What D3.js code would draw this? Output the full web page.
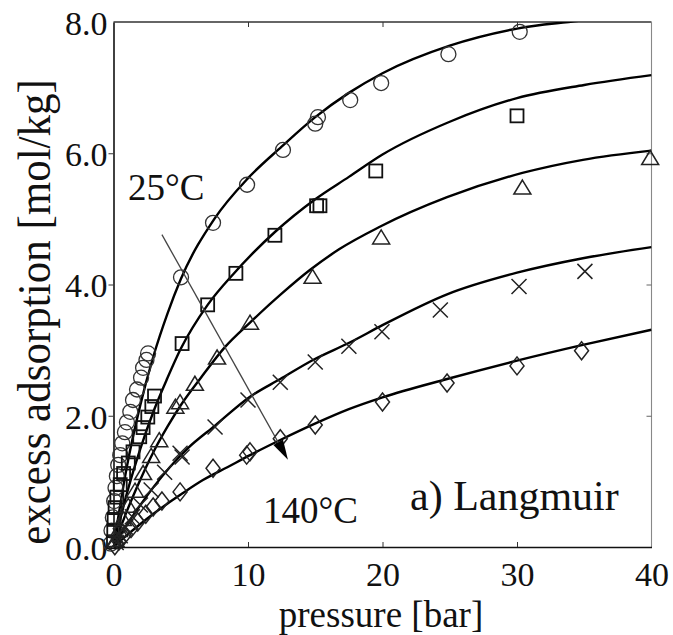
<!DOCTYPE html>
<html><head><meta charset="utf-8">
<script src="https://cdn.jsdelivr.net/npm/d3@7"></script>
<style>body{margin:0;background:#fff}svg{display:block}</style>
</head><body><svg id="c" width="673" height="635"></svg>
<script>
// ---- data ----
const xTicks = [0, 10, 20, 30, 40];
const yTicks = [0, 2, 4, 6, 8];
const seriesNames = ["25°C", "T2", "T3", "T4", "140°C"];
// measured points [pressure bar, excess adsorption mol/kg]
const circlePts = [[-0.2,0.05],[-0.15,0.25],[-0.05,0.45],[0.05,0.7],[0.15,0.9],[0.25,1.08],[0.35,1.25],[0.5,1.4],[0.65,1.58],[0.85,1.75],[1.0,1.9],[1.25,2.06],[1.45,2.24],[1.75,2.4],[2.05,2.58],[2.2,2.73],[2.45,2.85],[2.57,2.95],[5.02,4.11],[7.4,4.94],[9.93,5.52],[12.6,6.05],[15.0,6.45],[15.2,6.55],[17.6,6.81],[19.9,7.07],[24.9,7.51],[30.2,7.85]];
const squarePts = [[0,0.08],[0.02,0.25],[0.05,0.42],[0.12,0.6],[0.25,0.76],[0.5,0.95],[0.75,1.12],[1.1,1.28],[1.45,1.45],[1.95,1.68],[2.2,1.82],[2.55,1.98],[2.85,2.14],[3.05,2.3],[5.1,3.1],[7.0,3.69],[9.1,4.17],[12.0,4.75],[15.1,5.2],[15.35,5.2],[19.5,5.73],[30.0,6.57]];
const trianglePts = [[0.15,0.1],[0.4,0.25],[0.7,0.42],[1.1,0.62],[1.6,0.85],[2.2,1.12],[2.8,1.38],[3.4,1.62],[4.6,2.13],[4.95,2.2],[6.05,2.48],[7.7,2.88],[10.15,3.41],[14.8,4.11],[19.9,4.71],[30.4,5.47],[39.9,5.92]];
const crossPts = [[0.2,0.07],[0.5,0.17],[0.9,0.3],[1.4,0.46],[2.0,0.64],[2.8,0.87],[3.8,1.14],[4.95,1.43],[5.1,1.37],[7.55,1.83],[10.0,2.24],[12.4,2.51],[15.0,2.82],[17.5,3.06],[19.96,3.28],[24.3,3.61],[30.15,3.97],[35.05,4.2]];
const diamondPts = [[0.1,0.02],[0.4,0.09],[0.8,0.18],[1.3,0.28],[1.8,0.38],[2.4,0.5],[2.95,0.61],[3.6,0.7],[4.95,0.84],[7.4,1.2],[9.9,1.4],[10.15,1.45],[12.4,1.65],[15.0,1.86],[20.0,2.21],[24.8,2.5],[30.0,2.76],[34.8,2.99]];
// Langmuir fit curves
const fit1 = [[0,0],[1,1.23],[2,2.17],[3,2.93],[4,3.55],[5,4.08],[7.5,5.0],[10,5.62],[12.5,6.1],[15,6.55],[17.5,6.92],[20,7.22],[25,7.64],[30,7.9],[35,8.03],[40,8.2]];
const fit2 = [[0,0],[1,0.82],[2,1.5],[3,2.08],[4,2.57],[5,3.02],[7,3.69],[9,4.18],[12,4.8],[15,5.3],[17.5,5.64],[20,5.98],[25,6.48],[30,6.84],[35,7.04],[40,7.19]];
const fit3 = [[0,0],[1,0.55],[2,1.03],[3,1.46],[4,1.83],[5,2.16],[6.5,2.58],[8.3,3.05],[10.15,3.42],[12.5,3.86],[14.6,4.22],[16.8,4.54],[19.8,4.88],[24.8,5.33],[30.4,5.7],[34.9,5.9],[40,6.04]];
const fit4 = [[0,0],[1,0.34],[2,0.64],[3,0.92],[4.2,1.22],[5.5,1.5],[7.55,1.85],[10.15,2.29],[12.4,2.56],[14.83,2.85],[17.6,3.12],[20,3.38],[24.8,3.85],[30,4.18],[34.9,4.4],[40,4.57]];
const fit5 = [[0,0],[1,0.18],[2,0.35],[3,0.51],[4,0.66],[5,0.8],[6.65,1.02],[8.5,1.22],[10.15,1.4],[12.4,1.63],[15.1,1.89],[17.5,2.1],[20,2.28],[24.8,2.56],[30,2.84],[34.9,3.08],[40,3.31]];
const arrowFrom = [3.6, 4.76];
const arrowTo = [12.97, 1.33];

// ---- layout ----
const FONT = "'Liberation Serif', 'Times New Roman', Times, Tinos, 'Nimbus Roman No9 L', 'Nimbus Roman', FreeSerif, 'DejaVu Serif', 'Noto Serif', serif";
const svg = d3.select("#c").attr("font-family", FONT);
const x = d3.scaleLinear().domain([0, 40]).range([113.5, 651.5]);
const y = d3.scaleLinear().domain([0, 8]).range([547, 22]);

svg.append("clipPath").attr("id","clip").append("rect")
  .attr("x", x(0)).attr("y", y(8)).attr("width", x(40)-x(0)).attr("height", y(0)-y(8));

// frame
svg.append("line").attr("x1",x(0)).attr("x2",x(40)).attr("y1",y(8)).attr("y2",y(8)).attr("stroke","#333").attr("stroke-width",1.3);
svg.append("line").attr("x1",x(40)).attr("x2",x(40)).attr("y1",y(8)).attr("y2",y(0)).attr("stroke","#888").attr("stroke-width",1.1);

// axes
const fs = "34px";
const gx = svg.append("g").attr("transform",`translate(0,${y(0)})`)
  .call(d3.axisBottom(x).tickValues(xTicks).tickSizeInner(-5).tickSizeOuter(0).tickPadding(15).tickFormat(d3.format("d")));
gx.selectAll("text").style("font-size", fs).style("font-family", FONT).attr("fill","#111").attr("dy","0.71em");
const gy = svg.append("g").attr("transform",`translate(${x(0)},0)`)
  .call(d3.axisLeft(y).tickValues(yTicks).tickSizeInner(5).tickSizeOuter(0).tickPadding(1).tickFormat(d3.format(".1f")));
gy.selectAll("text").style("font-size", fs).style("font-family", FONT).attr("fill","#111").attr("dy","0.36em");
[gx, gy].forEach(g => { g.select(".domain").attr("stroke","#111").attr("stroke-width",1.6); g.selectAll(".tick line").attr("stroke","#333"); g.attr("font-family", FONT); });
gx.selectAll(".tick").filter(d => d === 0 || d === 40).select("line").remove();
gy.selectAll(".tick").filter(d => d === 0 || d === 8).select("line").remove();
// top & right inner ticks
svg.append("g").attr("transform",`translate(0,${y(8)})`)
  .call(d3.axisTop(x).tickValues([10,20,30]).tickSizeInner(-5).tickSizeOuter(0).tickFormat(""))
  .call(g => { g.select(".domain").remove(); g.selectAll("line").attr("stroke","#333"); });
svg.append("g").attr("transform",`translate(${x(40)},0)`)
  .call(d3.axisRight(y).tickValues([2,4,6]).tickSizeInner(-5).tickSizeOuter(0).tickFormat(""))
  .call(g => { g.select(".domain").remove(); g.selectAll("line").attr("stroke","#666"); });

// curves
const line = d3.line().x(d => x(d[0])).y(d => y(d[1])).curve(d3.curveMonotoneX);
const cg = svg.append("g").attr("clip-path","url(#clip)");
[fit1, fit2, fit3, fit4, fit5].forEach(f => {
  cg.append("path").datum(f).attr("d", line).attr("fill","none").attr("stroke","#000").attr("stroke-width",2.4);
});

// markers
const mg = svg.append("g").attr("fill","none");
mg.selectAll(".ci").data(circlePts).join("circle")
  .attr("cx", d => x(d[0])).attr("cy", d => y(d[1])).attr("r", 7.5)
  .attr("stroke","#333").attr("stroke-width",1.3);
mg.selectAll(".sq").data(squarePts).join("rect")
  .attr("x", d => x(d[0]) - 6.5).attr("y", d => y(d[1]) - 6.5).attr("width", 13).attr("height", 13)
  .attr("stroke","#111").attr("stroke-width",1.8);
mg.selectAll(".tr").data(trianglePts).join("path")
  .attr("d", d => { const cx = x(d[0]), cy = y(d[1]); return `M${cx},${cy-8}L${cx+8.5},${cy+6}L${cx-8.5},${cy+6}Z`; })
  .attr("stroke","#222").attr("stroke-width",1.5);
mg.selectAll(".cr").data(crossPts).join("path")
  .attr("d", d => { const cx = x(d[0]), cy = y(d[1]), h = 7.5; return `M${cx-h},${cy-h}L${cx+h},${cy+h}M${cx-h},${cy+h}L${cx+h},${cy-h}`; })
  .attr("stroke","#222").attr("stroke-width",1.5);
mg.selectAll(".di").data(diamondPts).join("path")
  .attr("d", d => { const cx = x(d[0]), cy = y(d[1]); return `M${cx},${cy-9}L${cx+7},${cy}L${cx},${cy+9}L${cx-7},${cy}Z`; })
  .attr("stroke","#222").attr("stroke-width",1.5);

// arrow
const ax1 = x(arrowFrom[0]), ay1 = y(arrowFrom[1]), ax2 = x(arrowTo[0]), ay2 = y(arrowTo[1]);
const ang = Math.atan2(ay2 - ay1, ax2 - ax1), hl = 20, hw = 5.5;
const bx = ax2 - hl*Math.cos(ang), by = ay2 - hl*Math.sin(ang);
svg.append("line").attr("x1",ax1).attr("y1",ay1).attr("x2",bx).attr("y2",by).attr("stroke","#444").attr("stroke-width",1.3);
svg.append("path").attr("d",`M${ax2},${ay2}L${bx - hw*Math.sin(ang)},${by + hw*Math.cos(ang)}L${bx + hw*Math.sin(ang)},${by - hw*Math.cos(ang)}Z`).attr("fill","#000");

// labels
const lab = svg.append("g").attr("fill","#111").attr("font-family", FONT);
lab.append("text").attr("x",128).attr("y",200).attr("font-size",37).text(seriesNames[0]);
lab.append("text").attr("x",263).attr("y",523).attr("font-size",37).text(seriesNames[4]);
lab.append("text").attr("x",410).attr("y",510).attr("font-size",42).text("a) Langmuir");
lab.append("text").attr("x",381).attr("y",627).attr("text-anchor","middle").attr("font-size",37).text("pressure [bar]");
lab.append("text").attr("transform","translate(50,312) scale(1.08,1) rotate(-90)").attr("text-anchor","middle").attr("font-size",43).text("excess adsorption [mol/kg]");
</script></body></html>
